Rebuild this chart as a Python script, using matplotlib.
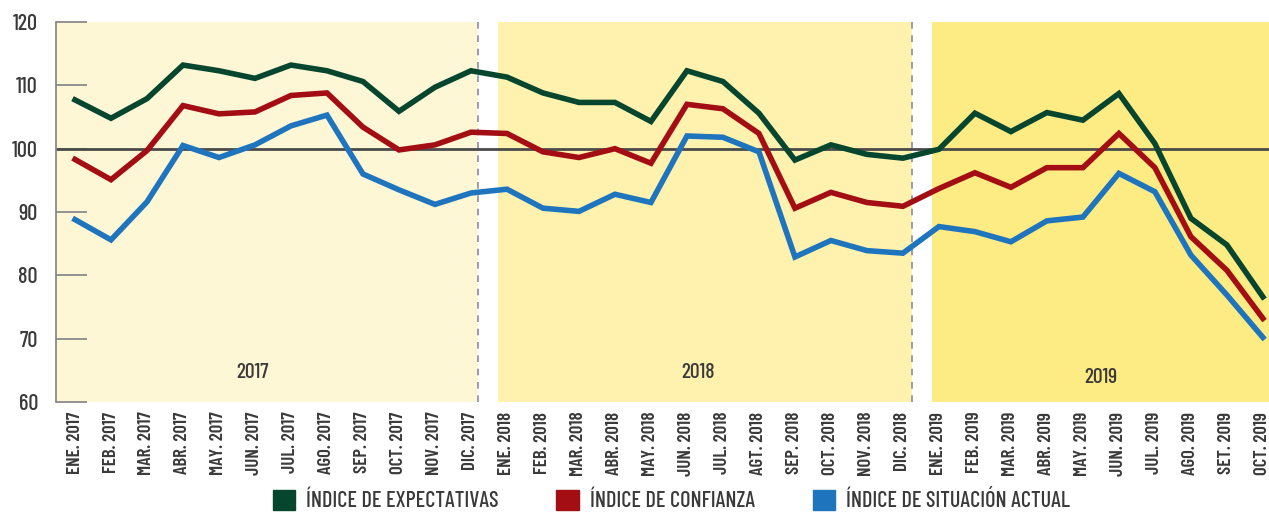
import matplotlib.pyplot as plt
from matplotlib.patches import Patch

plt.rcParams['font.family'] = ['Barlow Condensed', 'DejaVu Sans']

# meses
meses = ['ENE. 2017', 'FEB. 2017', 'MAR. 2017', 'ABR. 2017', 'MAY. 2017', 'JUN. 2017',
         'JUL. 2017', 'AGO. 2017', 'SEP. 2017', 'OCT. 2017', 'NOV. 2017', 'DIC. 2017',
         'ENE. 2018', 'FEB. 2018', 'MAR. 2018', 'ABR. 2018', 'MAY. 2018', 'JUN. 2018',
         'JUL. 2018', 'AGT. 2018', 'SEP. 2018', 'OCT. 2018', 'NOV. 2018', 'DIC. 2018',
         'ENE. 2019', 'FEB. 2019', 'MAR. 2019', 'ABR. 2019', 'MAY. 2019', 'JUN. 2019',
         'JUL. 2019', 'AGO. 2019', 'SET. 2019', 'OCT. 2019']

# indices
expectativas = [107.7, 104.8, 107.9, 113.2, 112.3, 111.1, 113.2, 112.3, 110.6, 105.9, 109.7, 112.3,
                111.3, 108.8, 107.3, 107.3, 104.3, 112.3, 110.6, 105.6, 98.2, 100.6, 99.1, 98.5,
                99.9, 105.6, 102.7, 105.7, 104.5, 108.7, 100.8, 89.0, 84.8, 76.6]
confianza = [98.3, 95.1, 99.7, 106.8, 105.5, 105.8, 108.4, 108.8, 103.4, 99.8, 100.6, 102.6,
             102.4, 99.5, 98.6, 100.0, 97.7, 107.0, 106.3, 102.4, 90.6, 93.1, 91.5, 90.9,
             93.7, 96.2, 93.9, 97.0, 97.0, 102.4, 97.0, 86.1, 80.8, 73.2]
situacion = [88.8, 85.6, 91.6, 100.5, 98.6, 100.6, 103.6, 105.3, 96.0, 93.5, 91.2, 93.0,
             93.6, 90.6, 90.1, 92.8, 91.5, 102.0, 101.8, 99.5, 82.9, 85.5, 83.9, 83.5,
             87.7, 86.9, 85.3, 88.6, 89.2, 96.1, 93.2, 83.2, 76.9, 70.2]

anios = ['2017', '2018', '2019']

fig = plt.figure(figsize=(12.69, 5.16), dpi=100)
ax = fig.add_axes([56 / 1269, 1 - 402 / 516, 1 - 56 / 1269, 380 / 516])

x = list(range(len(meses)))
ax.set_xlim(-0.528, 33.17)
ax.set_ylim(60, 120)

# fondos por año
ax.axvspan(-0.528, 11.2, color='#FEF7D6', zorder=0, lw=0)
ax.axvspan(11.74, 23.25, color='#FEF2AE', zorder=0, lw=0)
ax.axvspan(23.8, 33.17, color='#FDEB84', zorder=0, lw=0)
ax.axvline(11.2, color='#8A8E9A', ls=(0, (4, 4)), lw=1.2, zorder=1)
ax.axvline(23.25, color='#8A8E9A', ls=(0, (4, 4)), lw=1.2, zorder=1)

ax.axhline(100, color='#4A4A4A', lw=2, zorder=2)

ax.plot(x, expectativas, color='#06462F', lw=4, zorder=3, solid_joinstyle='miter')
ax.plot(x, confianza, color='#A30E15', lw=4, zorder=3, solid_joinstyle='miter')
ax.plot(x, situacion, color='#1F74BE', lw=4, zorder=3, solid_joinstyle='miter')

for xa, ya, t in zip([4.92, 17.3, 28.5], [64.7, 64.7, 63.9], anios):
    ax.text(xa, ya, t, ha='center', va='center', fontsize=15.5, fontweight=500, color='#3A3A3A')

ax.set_yticks([60, 70, 80, 90, 100, 110, 120])
ax.tick_params(axis='y', direction='in', length=22, width=1.3, color='#8A8A8A',
               labelsize=16, labelcolor='#3A3A3A', pad=13)
for lab in ax.get_yticklabels():
    lab.set_fontweight(500)
ax.set_xticks(x)
ax.set_xticklabels(meses, rotation=90, fontsize=13.5, fontweight=600, color='#3A3A3A')
ax.tick_params(axis='x', length=0, pad=7)

for s in ['top', 'right', 'bottom']:
    ax.spines[s].set_visible(False)
ax.spines['left'].set_color('#8A8A8A')
ax.spines['left'].set_linewidth(1.3)

handles = [Patch(color='#06462F', label='ÍNDICE DE EXPECTATIVAS'),
           Patch(color='#A30E15', label='ÍNDICE DE CONFIANZA'),
           Patch(color='#1F74BE', label='ÍNDICE DE SITUACIÓN ACTUAL')]
leg = fig.legend(handles=handles, loc='lower center', bbox_to_anchor=(0.529, -0.03), ncol=3,
                 frameon=False, handlelength=1.0, handleheight=1.0,
                 columnspacing=2.6, handletextpad=0.5, prop={'weight': 500, 'size': 16})
for t in leg.get_texts():
    t.set_color('#3A3A3A')

fig.savefig('out.png', dpi=100)
